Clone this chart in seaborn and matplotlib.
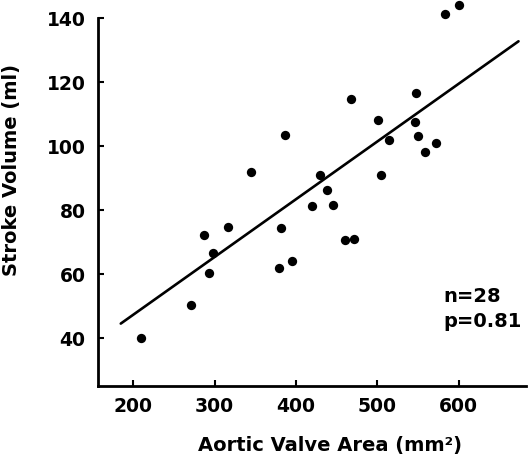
import matplotlib
matplotlib.use("Agg")
import matplotlib.pyplot as plt
import seaborn as sns
import pandas as pd

# Data
aortic_valve_area = [209.5, 270.5, 286.9, 298.6, 293.7, 317.1, 345.0, 381.8, 379.0, 395.3,
                     386.0, 419.2, 429.4, 438.4, 446.2, 460.9, 472.0, 468.3, 501.0, 505.2,
                     515.0, 547.7, 546.1, 550.6, 558.4, 572.2, 583.8, 600.5]
stroke_volume = [40.2, 50.4, 72.2, 66.8, 60.3, 74.9, 92.1, 74.4, 62.0, 64.2,
                 103.5, 81.3, 90.9, 86.2, 81.8, 70.7, 71.0, 114.9, 108.1, 91.0,
                 102.1, 116.7, 107.5, 103.3, 98.2, 101.1, 141.2, 144.2]
reg_x = [184.6, 673.8]
reg_y = [44.6, 132.8]
x_ticks = [200, 300, 400, 500, 600]
y_ticks = [40, 60, 80, 100, 120, 140]
annotation = ["n=28", "p=0.81"]

df = pd.DataFrame({"area": aortic_valve_area, "sv": stroke_volume})
reg = pd.DataFrame({"x": reg_x, "y": reg_y})

sns.set_style("ticks")
plt.rcParams["font.family"] = ["DejaVu Sans"]
plt.rcParams["font.weight"] = "bold"
plt.rcParams["text.color"] = "black"
plt.rcParams["axes.labelcolor"] = "black"

fig = plt.figure(figsize=(5.28, 4.62), dpi=100)
ax = fig.add_axes([98 / 528, 1 - 386 / 462, (526 - 98) / 528, 386 / 462])

sns.scatterplot(data=df, x="area", y="sv", ax=ax, color="black", s=45,
                edgecolor="black", linewidth=0, clip_on=False, zorder=3)
sns.lineplot(data=reg, x="x", y="y", ax=ax, color="black", linewidth=1.9)

ax.set_xlim(156.6, 683)
ax.set_ylim(25.1, 145.7)
ax.set_xticks(x_ticks)
ax.set_yticks(y_ticks)
ax.set_xticklabels([str(t) for t in x_ticks], fontsize=13.5, fontweight="bold")
ax.set_yticklabels([str(t) for t in y_ticks], fontsize=13.5, fontweight="bold")
ax.tick_params(axis="both", direction="in", length=4, width=1.5, colors="black")
ax.tick_params(axis="x", pad=8)
ax.tick_params(axis="y", pad=9)

for side in ["top", "right"]:
    ax.spines[side].set_visible(False)
for side in ["left", "bottom"]:
    ax.spines[side].set_linewidth(2)
    ax.spines[side].set_color("black")
ax.spines["left"].set_bounds(25.1, 140)

ax.set_xlabel("Aortic Valve Area (mm²)", fontsize=14, fontweight="bold", color="black")
ax.set_ylabel("Stroke Volume (ml)", fontsize=14, fontweight="bold", color="black")
ax.xaxis.set_label_coords((330 - 98) / (526 - 98), -(436 - 386) / 386)
ax.yaxis.set_label_coords(-(98 - 21) / (526 - 98), (386 - 170) / 386)

ax.text(581.7, 53.2, annotation[0], fontsize=14, fontweight="bold", va="center", ha="left")
ax.text(581.7, 45.4, annotation[1], fontsize=14, fontweight="bold", va="center", ha="left")

fig.savefig("out.png", dpi=100)
